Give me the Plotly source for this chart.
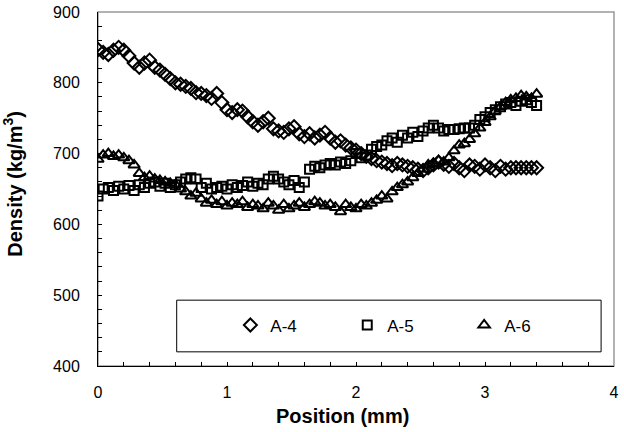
import plotly.graph_objects as go

positions = [round(i * 0.04, 2) for i in range(86)]

a4 = [847, 843, 840, 846, 850, 846, 838, 828, 822, 828, 832, 822, 818, 812, 806, 800,
      798, 795, 792, 786, 785, 782, 778, 785, 772, 762, 758, 762, 760, 752, 745, 740,
      745, 750, 735, 732, 730, 735, 738, 728, 724, 728, 722, 726, 730, 722, 716, 718,
      712, 708, 705, 700, 696, 693, 690, 688, 686, 683, 686, 684, 682, 680, 678, 676,
      680, 684, 688, 685, 682, 686, 680, 676, 684, 682, 678, 684, 680, 676, 682, 678,
      680, 680, 680, 680, 680, 680]

a5 = [640, 650, 652, 648, 654, 650, 655, 648, 656, 652, 658, 660, 654, 658, 652, 656,
      660, 664, 666, 664, 652, 658, 650, 652, 654, 650, 656, 652, 655, 660, 654, 658,
      656, 664, 668, 664, 660, 656, 662, 652, 660, 678, 682, 680, 684, 686, 684, 688,
      686, 690, 700, 694, 698, 706, 710, 712, 718, 722, 716, 726, 722, 730, 724, 732,
      736, 740, 736, 732, 734, 734, 735, 736, 736, 740, 748, 752, 758, 762, 766, 770,
      772, 768, 774, 776, 772, 768]

a6 = [692, 698, 700, 696, 698, 694, 690, 684, 672, 666, 668, 664, 662, 660, 658, 656,
      650, 646, 640, 644, 636, 630, 634, 628, 632, 626, 630, 628, 632, 624, 628, 626,
      622, 630, 626, 620, 628, 622, 626, 630, 624, 628, 632, 630, 626, 628, 624, 618,
      628, 624, 622, 628, 626, 630, 634, 640, 636, 646, 652, 656, 660, 666, 672, 678,
      684, 686, 690, 688, 694, 704, 712, 714, 720, 728, 736, 744, 752, 760, 766, 772,
      776, 778, 782, 780, 778, 784]

series = [("A-4", a4, "diamond-open", 10),
          ("A-5", a5, "square-open", 9),
          ("A-6", a6, "triangle-up-open", 10)]

x_ticks = [0, 1, 2, 3, 4]
y_ticks = [400, 500, 600, 700, 800, 900]

W, H = 624, 432
L, R, T, B = 97.5, 10, 4, 66
PW, PH = W - L - R, H - T - B

fig = go.Figure()
legend_names = ["legend", "legend2", "legend3"]
for i, (name, vals, sym, sz) in enumerate(series):
    fig.add_trace(go.Scatter(
        x=positions, y=vals, name=name, mode="markers", legend=legend_names[i],
        marker=dict(symbol=sym, size=sz, color="black",
                    line=dict(color="black", width=2)),
    ))

leg_common = dict(orientation="h", yanchor="middle", xanchor="left",
                  bgcolor="rgba(0,0,0,0)", borderwidth=0, font=dict(size=17))
leg_y = 1 - (324.5 - T) / PH
legends = {}
for i, ln in enumerate(legend_names):
    px = 230 + 117 * i
    legends[ln] = dict(leg_common, x=(px - L) / PW, y=leg_y)

fig.update_layout(
    width=W, height=H,
    margin=dict(l=L, r=R, t=T, b=B),
    paper_bgcolor="white", plot_bgcolor="white",
    font=dict(family="Arial, Liberation Sans, sans-serif", size=16, color="black"),
    showlegend=True,
    xaxis=dict(range=[0, 4], tickvals=x_ticks, ticks="inside", ticklen=4,
               tickcolor="black", showline=True, linecolor="black", linewidth=1,
               showgrid=False, zeroline=False, ticklabelstandoff=12,
               ticklabeloverflow="allow",
               minor=dict(dtick=0.2, ticks="inside", ticklen=4, tickcolor="black")),
    yaxis=dict(range=[400, 900], tickvals=y_ticks, ticks="inside", ticklen=4,
               tickcolor="black", showline=True, linecolor="black", linewidth=1,
               showgrid=False, zeroline=False, ticklabelstandoff=14,
               ticklabeloverflow="allow",
               minor=dict(dtick=20, ticks="inside", ticklen=4, tickcolor="black")),
    shapes=[
        dict(type="rect", xref="paper", yref="paper", x0=0, x1=1, y0=0, y1=1,
             line=dict(color="#999999", width=1.5), layer="below"),
        dict(type="rect", xref="x", yref="y", x0=0.61, x1=3.9, y0=420, y1=493,
             line=dict(color="black", width=1), fillcolor="white", layer="below"),
    ],
    annotations=[
        dict(text="<b>Position (mm)</b>", xref="paper", yref="paper",
             x=(342.5 - L) / PW, y=-(417 - (H - B)) / PH,
             xanchor="center", yanchor="middle", showarrow=False,
             font=dict(size=20, family="Arial, Liberation Sans, sans-serif")),
        dict(text="<b>Density (kg/m<sup>3</sup>)</b>", xref="paper", yref="paper",
             x=-(L - 12) / PW, y=1 - (180 - T) / PH,
             xanchor="center", yanchor="middle", showarrow=False, textangle=-90,
             font=dict(size=20, family="Arial, Liberation Sans, sans-serif")),
    ],
    **legends,
)

fig.write_html("out.html")
